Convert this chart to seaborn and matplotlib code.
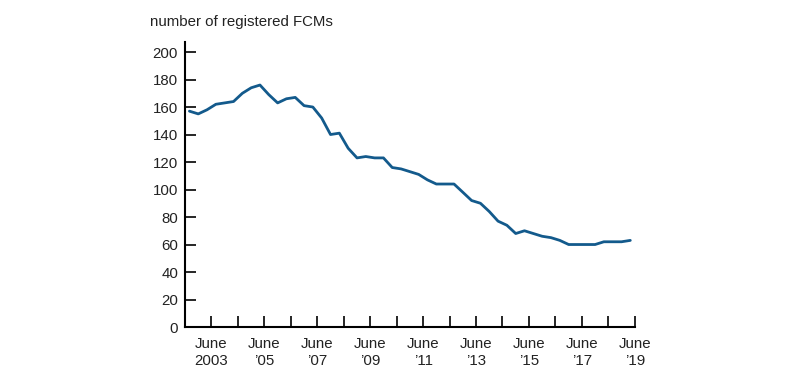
import pandas as pd
import numpy as np
import matplotlib
matplotlib.use("Agg")
import matplotlib.pyplot as plt
import seaborn as sns

# Data: number of registered FCMs, sampled every 4 months from Aug 2002 to Apr 2019
start_date = "2002-08-01"
fcm_counts = [157, 155, 158, 162, 163, 164, 170, 174, 176, 169,
              163, 166, 167, 161, 160, 152, 140, 141, 130, 123,
              124, 123, 123, 116, 115, 113, 111, 107, 104, 104,
              104, 98, 92, 90, 84, 77, 74, 68, 70, 68,
              66, 65, 63, 60, 60, 60, 60, 62, 62, 62, 63]
tick_years = list(range(2002, 2020))
tick_labels = ["", "June\n2003", "", "June\n’05", "", "June\n’07", "", "June\n’09", "",
               "June\n’11", "", "June\n’13", "", "June\n’15", "", "June\n’17", "", "June\n’19"]
y_ticks = [0, 20, 40, 60, 80, 100, 120, 140, 160, 180, 200]
title = "number of registered FCMs"

dates = pd.date_range(start_date, periods=len(fcm_counts), freq="4MS")
df = pd.DataFrame({"date": dates, "count": fcm_counts})

sns.set_style("ticks")
plt.rcParams["font.family"] = ["Liberation Sans", "DejaVu Sans"]

fs = 10.8
fig = plt.figure(figsize=(8, 3.87), dpi=100)
ax = fig.add_axes([0.23125, 0.155, 0.7934 - 0.23125, 0.8922 - 0.155])

sns.lineplot(data=df, x="date", y="count", ax=ax, color="#135a8c", linewidth=2.0)

ax.set_xlim(pd.Timestamp("2002-06-01"), pd.Timestamp("2019-06-01"))
ax.set_ylim(0, 207.5)
ax.set_yticks(y_ticks)
ax.set_yticklabels([str(v) for v in y_ticks], fontsize=fs, color="#222222")
xt = [pd.Timestamp(f"{y}-06-01") for y in tick_years]
ax.set_xticks(xt)
ax.set_xticklabels(tick_labels, fontsize=fs, color="#222222", linespacing=1.3)

ax.tick_params(axis="y", direction="in", length=8, width=1.4, pad=5)
ax.tick_params(axis="x", direction="in", length=8, width=1.4, pad=7)
for s in ["top", "right"]:
    ax.spines[s].set_visible(False)
for s in ["left", "bottom"]:
    ax.spines[s].set_linewidth(1.5)
    ax.spines[s].set_color("black")

ax.set_xlabel("")
ax.set_ylabel("")
fig.text(150 / 800, 1 - 22 / 387, title, fontsize=fs, color="#222222", va="center", ha="left")

fig.savefig("out.png", dpi=100)
